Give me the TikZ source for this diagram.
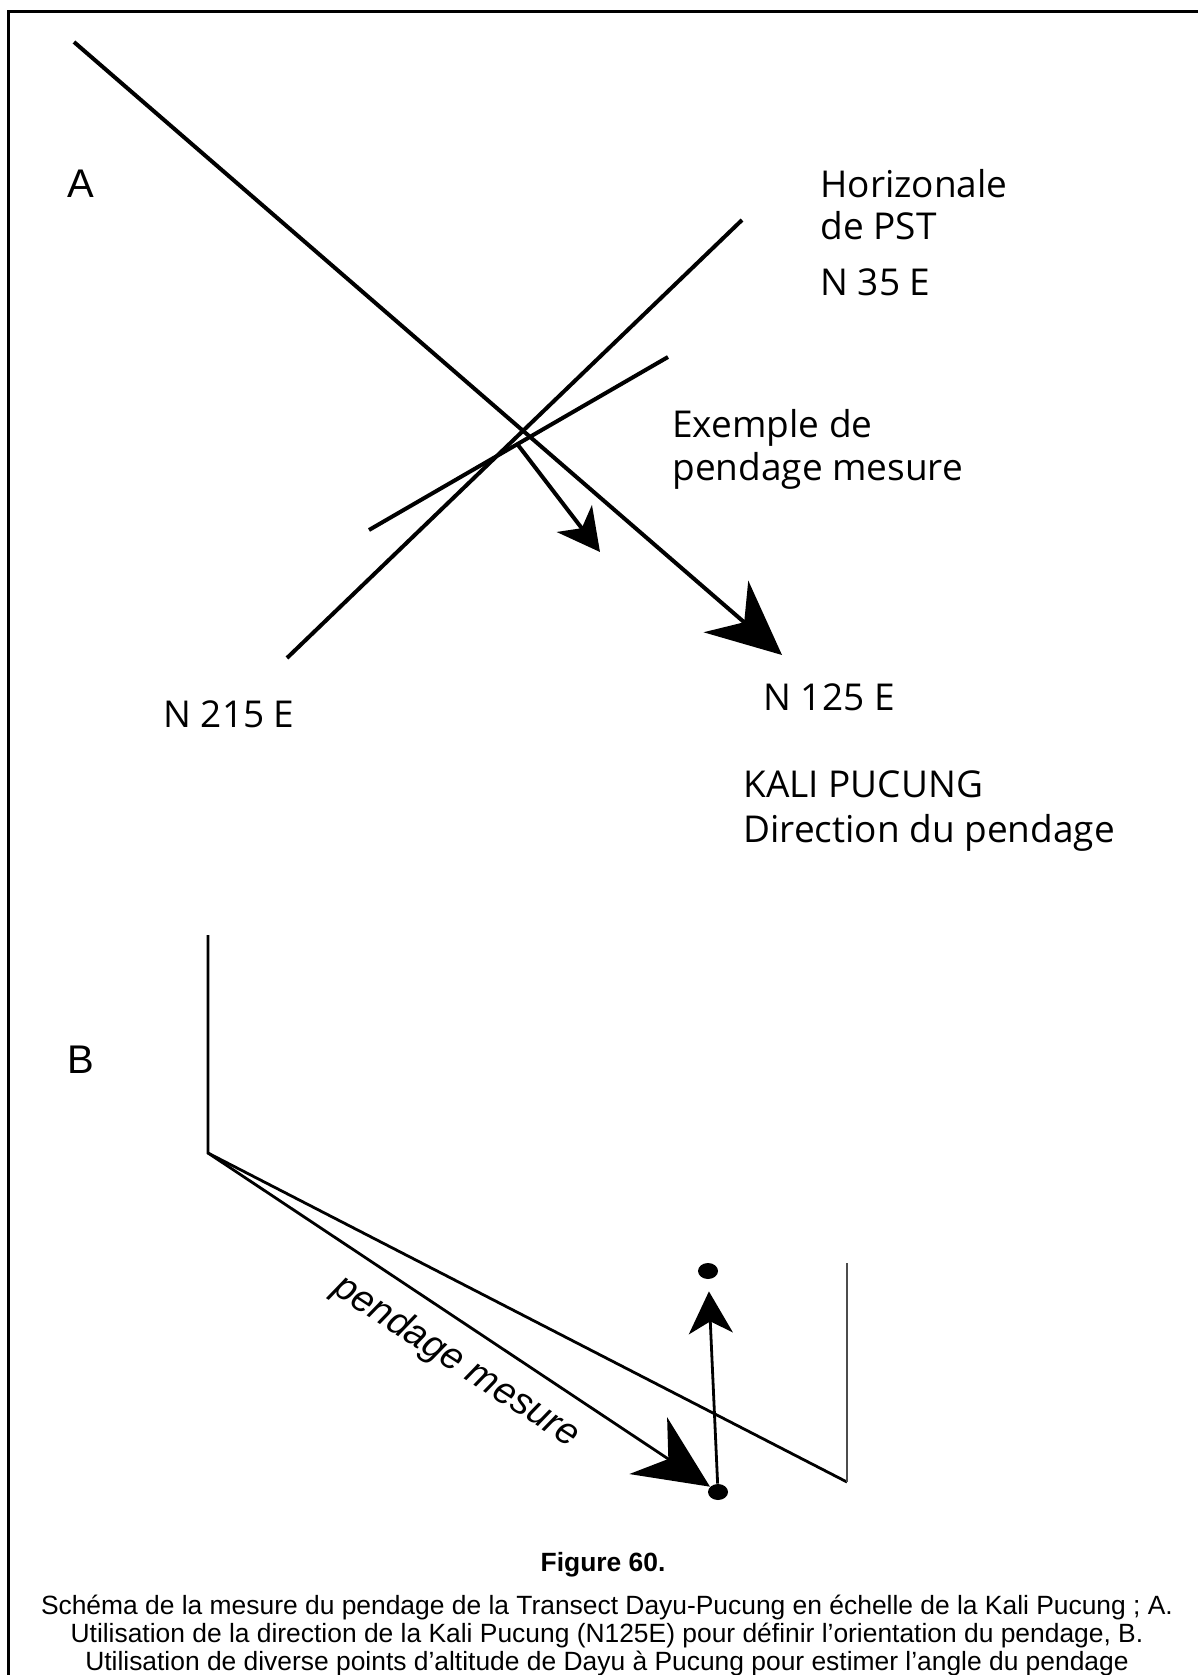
\documentclass[tikz,border=0pt]{standalone}
\usepackage{fontspec}
\setmainfont{Liberation Sans}
\newfontfamily\labelfont{Open Sans}
\usetikzlibrary{arrows.meta,shapes.geometric}

\begin{document}
\begin{tikzpicture}[
    x=0.5pt,
    y=-0.5pt,
    trait/.style={line width=2pt, black},
    coupe/.style={line width=1.4pt, black},
    grosse/.style={-{Stealth[length=37pt, width=34pt, inset=12pt]}},
    petite/.style={-{Stealth[length=21pt, width=22pt, inset=6pt]}},
    etiq/.style={anchor=base west, inner sep=0pt, font=\labelfont\fontsize{18.5}{22}\selectfont},
    lettre/.style={anchor=base west, inner sep=0pt, font=\fontsize{20}{24}\selectfont},
    legende/.style={anchor=base, inner sep=0pt, font=\fontsize{13.2}{16}\selectfont},
    point/.style={ellipse, fill=black, inner sep=0pt, minimum width=10pt, minimum height=8pt}
]
\useasboundingbox (0,0) rectangle (1198,1675);
% Frame
\draw[line width=1.5pt] (1198,12) -- (8,12) -- (8,1675);

% A: map view
\coordinate (nw) at (74,42);
\coordinate (se) at (782,655);
\coordinate (sw) at (287,658);
\coordinate (ne) at (742,220);
\coordinate (pm1) at (369,530);
\coordinate (pm2) at (668,357);
\coordinate (pa) at (518,445);
\coordinate (pb) at (600,552);
\draw[trait, grosse] (nw) -- (se);
\draw[trait] (sw) -- (ne);
\draw[trait] (pm1) -- (pm2);
\draw[trait, petite] (pa) -- (pb);

\node[lettre] (lettreA) at (67,198) {A};
\node[etiq] (horiz) at (820,197) {Horizonale};
\node[etiq] (pst) at (820,239) {de PST};
\node[etiq] (n35) at (820,295) {N 35 E};
\node[etiq] (ex1) at (672,437) {Exemple de};
\node[etiq] (ex2) at (672,480) {pendage mesure};
\node[etiq] (n215) at (163,727) {N 215 E};
\node[etiq] (n125) at (763,710) {N 125 E};
\node[etiq] (kali) at (743,797) {KALI PUCUNG};
\node[etiq] (dir) at (743,842) {Direction du pendage};

% B: section
\node[lettre] (lettreB) at (67,1073) {B};
\coordinate (haut) at (208,935);
\coordinate (coin) at (208,1153);
\coordinate (dhaut) at (847,1263);
\coordinate (dbas) at (847,1482);
\node[point] (d1) at (718,1492) {};
\node[point] (d2) at (708,1271) {};
\draw[coupe] (haut) -- (coin) -- (dbas);
\draw[coupe, black!70] (dhaut) -- (dbas);
\draw[coupe, grosse] (coin) -- (d1);
\draw[coupe, petite, shorten >=6pt] (d1) -- (d2);
\node[rotate=-33, inner sep=0pt, font=\itshape\fontsize{19}{22}\selectfont] (pente) at (456,1362) {pendage mesure};

% Caption
\node[legende, font=\bfseries\fontsize{13.2}{16}\selectfont] (fig) at (603,1571) {Figure 60.};
\foreach \y/\txt in {1614/{Schéma de la mesure du pendage de la Transect Dayu-Pucung en échelle de la Kali Pucung ; A.},
    1642/{Utilisation de la direction de la Kali Pucung (N125E) pour définir l’orientation du pendage, B.},
    1670/{Utilisation de diverse points d’altitude de Dayu à Pucung pour estimer l’angle du pendage}} {
  \node[legende] (leg-\y) at (607,\y) {\txt};
}
\end{tikzpicture}
\end{document}
